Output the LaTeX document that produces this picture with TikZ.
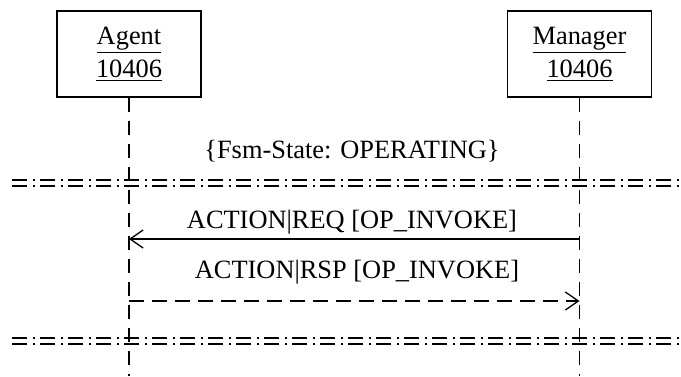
\documentclass[tikz,border=0pt]{standalone}
\usepackage{fontspec}
\setmainfont{Liberation Serif}
\usetikzlibrary{arrows.meta,positioning}

\begin{document}
\begin{tikzpicture}[x=0.5pt,y=-0.5pt,
        font=\fontsize{13.2}{16.5}\selectfont,
        entity/.style={rectangle, draw, line width=0.75pt, minimum width=72pt,
                       minimum height=43pt, align=center, inner sep=0pt},
        lifeline/.style={line width=0.65pt, dash pattern=on 7pt off 4.5pt},
        separator/.style={double, line width=0.75pt, double distance=2.4pt,
                          dash pattern=on 7.5pt off 2.75pt on 1pt off 2.75pt},
        msg/.style={line width=0.65pt, -{Straight Barb[length=6.5pt,width=9pt]}},
        reply/.style={msg, dash pattern=on 7.5pt off 4pt}]
        \useasboundingbox (0,0) rectangle (681,376);

        % participants
        \node[entity] (agent) at (129,54) {\underline{Agent}\\\underline{10406}};
        \node[entity, right=152.5pt of agent] (manager) {\underline{Manager}\\\underline{10406}};

        \coordinate (bottom) at (0,376);
        \coordinate (yreq) at (0,239);
        \coordinate (yrsp) at (0,301);

        % state separators
        \coordinate (sepAl) at (12,183);
        \coordinate (sepAr) at (681,183);
        \coordinate (sepBl) at (12,341);
        \coordinate (sepBr) at (681,341);
        \draw[separator] (sepAl) -- (sepAr);
        \draw[separator] (sepBl) -- (sepBr);

        % lifelines
        \draw[lifeline] (agent.south) -- (agent.south |- bottom);
        \draw[lifeline] (manager.south) -- (manager.south |- bottom);

        \node[anchor=base] (state) at (352,158) {\{Fsm-State: OPERATING\}};

        % messages
        \node[anchor=base] (reqlabel) at (352,228) {ACTION|REQ [OP\_INVOKE]};
        \draw[msg] (manager.south |- yreq) -- (agent.south |- yreq);
        \node[anchor=base] (rsplabel) at (357,278) {ACTION|RSP [OP\_INVOKE]};
        \draw[reply] (agent.south |- yrsp) -- (manager.south |- yrsp);
      \end{tikzpicture}
\end{document}
